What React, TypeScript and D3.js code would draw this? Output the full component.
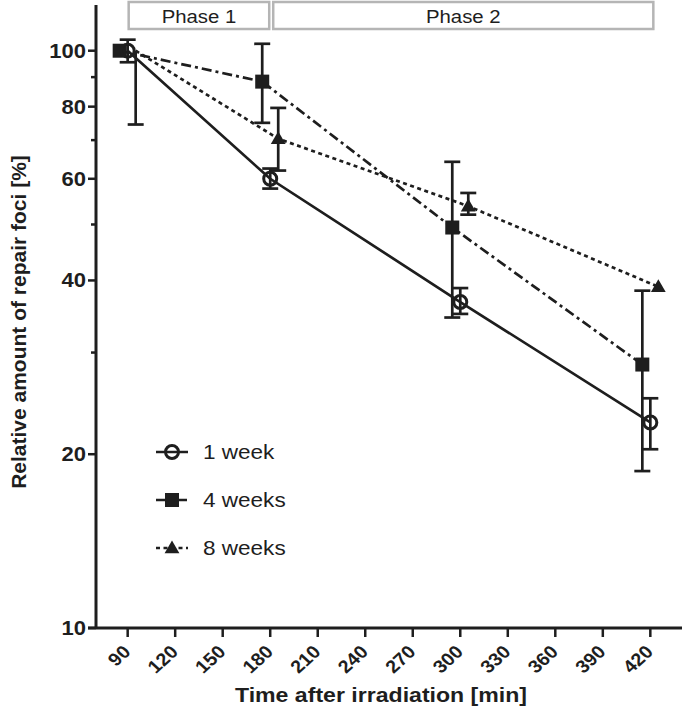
import * as d3 from "d3";

const timePoints = [90, 180, 300, 420];
const seriesNames = ["1 week", "4 weeks", "8 weeks"];

// mean values [%]
const oneWeek = [100, 60, 36.7, 22.7];
const fourWeeks = [100, 88.4, 49.4, 28.6];
const eightWeeks = [100, 70.4, 53.8, 39];

// error bar ends [low, high]
const oneWeekErr: [number, number][] = [[95.5, 104.5], [57.7, 62.5], [35, 38.8], [20.4, 25]];
const fourWeeksErr: [number, number][] = [[100, 100], [75, 102.8], [34.5, 64.2], [18.7, 38.4]];
const eightWeeksErr: [number, number][] = [[74.5, 100], [62, 79.6], [52, 56.7], [39, 39]];

const xTicks = [90, 120, 150, 180, 210, 240, 270, 300, 330, 360, 390, 420];
const yMajorTicks = [10, 20, 40, 60, 80, 100];
const yMinorTicks = [30, 50, 70, 90];

const phaseLabels = ["Phase 1", "Phase 2"];
const phaseStart = [90, 180];
const phaseEnd = [180, 420];

const W = 685;
const H = 718;
const INK = "#1e1e1e";
const FONT = "'Liberation Sans', Arial, sans-serif";
const STRETCH = "scale(1.1,1)";

type Series = {
  name: string;
  values: number[];
  err: [number, number][];
  shape: "circle" | "square" | "triangle";
  dash: string;
  offset: number;
  firstMarker: number;
};

const series: Series[] = [
  { name: seriesNames[1], values: fourWeeks, err: fourWeeksErr, shape: "square", dash: "10,4,3,4", offset: -8, firstMarker: 0 },
  { name: seriesNames[2], values: eightWeeks, err: eightWeeksErr, shape: "triangle", dash: "4,3.5", offset: 8, firstMarker: 1 },
  { name: seriesNames[0], values: oneWeek, err: oneWeekErr, shape: "circle", dash: "", offset: 0, firstMarker: 0 },
];

const Marker = ({ shape, x, y }: { shape: Series["shape"]; x: number; y: number }) => {
  if (shape === "circle")
    return <circle cx={x} cy={y} r={6.5} fill="none" stroke={INK} strokeWidth={3} />;
  if (shape === "square")
    return <rect x={x - 7} y={y - 7} width={14} height={14} fill={INK} />;
  const tri = d3.symbol().type(d3.symbolTriangle).size(95)();
  return <path d={tri || undefined} transform={`translate(${x},${y + 1})`} fill={INK} />;
};

export default function App() {
  const x = d3.scaleLinear().domain([70, 440]).range([96, 682]);
  const y = d3.scaleLog().domain([10, 120]).range([628, 5]);
  const line = d3
    .line<number>()
    .x((_, i) => x(timePoints[i]))
    .y((d) => y(d));

  const legendOrder = [series[2], series[0], series[1]];

  return (
    <svg
      width={W}
      height={H}
      style={{ position: "absolute", left: 0, top: 0, background: "#fff" }}
      fontFamily={FONT}
    >
      {/* phase boxes */}
      {phaseLabels.map((p, i) => {
        const x0 = x(phaseStart[i]) + (i === 0 ? 1 : 3);
        const x1 = x(phaseEnd[i]) + (i === 0 ? -1 : 3);
        return (
          <g key={p}>
            <rect x={x0} y={2} width={x1 - x0} height={27} fill="#fff" stroke="#b5b5b5" strokeWidth={2.5} />
            <text
              transform={`translate(${(x0 + x1) / 2},23) ${STRETCH}`}
              textAnchor="middle"
              fontSize={18.5}
              fill={INK}
            >
              {p}
            </text>
          </g>
        );
      })}

      {/* axes */}
      <line x1={96} x2={96} y1={y(120)} y2={y(10)} stroke={INK} strokeWidth={3} />
      <line x1={88} x2={x(440)} y1={y(10)} y2={y(10)} stroke={INK} strokeWidth={3} />
      {yMajorTicks.map((t) => (
        <g key={t}>
          <line x1={88} x2={96} y1={y(t)} y2={y(t)} stroke={INK} strokeWidth={2.5} />
          <text
            transform={`translate(86,${y(t) + 7}) ${STRETCH}`}
            textAnchor="end"
            fontSize={20}
            fontWeight="bold"
            fill={INK}
          >
            {t}
          </text>
        </g>
      ))}
      {yMinorTicks.map((t) => (
        <line key={t} x1={91} x2={96} y1={y(t)} y2={y(t)} stroke={INK} strokeWidth={2.5} />
      ))}
      {xTicks.map((t) => (
        <g key={t}>
          <line x1={x(t)} x2={x(t)} y1={y(10)} y2={y(10) + 9} stroke={INK} strokeWidth={2.5} />
          <text
            transform={`translate(${x(t) + 4},${y(10) + 25}) ${STRETCH} rotate(-45)`}
            textAnchor="end"
            fontSize={18}
            fontWeight="bold"
            fill={INK}
          >
            {t}
          </text>
        </g>
      ))}
      <text
        transform={`translate(${(96 + 682) / 2 - 8},702) ${STRETCH}`}
        textAnchor="middle"
        fontSize={21}
        fontWeight="bold"
        fill={INK}
      >
        Time after irradiation [min]
      </text>
      <text
        transform={`translate(26,322) rotate(-90)`}
        textAnchor="middle"
        fontSize={21}
        fontWeight="bold"
        fill={INK}
      >
        Relative amount of repair foci [%]
      </text>

      {/* series */}
      {series.map((s) => (
        <g key={s.name} transform={`translate(${s.offset},0)`}>
          <path
            d={line(s.values) || undefined}
            fill="none"
            stroke={INK}
            strokeWidth={2.7}
            strokeDasharray={s.dash || undefined}
          />
          {s.err.map(([lo, hi], i) => {
            const cx = x(timePoints[i]);
            if (lo === hi) return null;
            return (
              <g key={i} stroke={INK} strokeWidth={2.7}>
                <line x1={cx} x2={cx} y1={y(lo)} y2={y(hi)} />
                {lo !== s.values[i] && <line x1={cx - 8} x2={cx + 8} y1={y(lo)} y2={y(lo)} />}
                {hi !== s.values[i] && <line x1={cx - 8} x2={cx + 8} y1={y(hi)} y2={y(hi)} />}
              </g>
            );
          })}
          {s.values.map((v, i) =>
            i < s.firstMarker ? null : (
              <Marker key={i} shape={s.shape} x={x(timePoints[i])} y={y(v)} />
            )
          )}
        </g>
      ))}

      {/* legend */}
      {legendOrder.map((s, i) => {
        const ly = 452 + i * 48;
        return (
          <g key={s.name}>
            <line x1={156} x2={188} y1={ly} y2={ly} stroke={INK} strokeWidth={2.5} strokeDasharray={s.dash || undefined} />
            <Marker shape={s.shape} x={172} y={ly} />
            <text transform={`translate(203,${ly + 7}) ${STRETCH}`} fontSize={20.5} fill={INK}>
              {s.name}
            </text>
          </g>
        );
      })}
    </svg>
  );
}
